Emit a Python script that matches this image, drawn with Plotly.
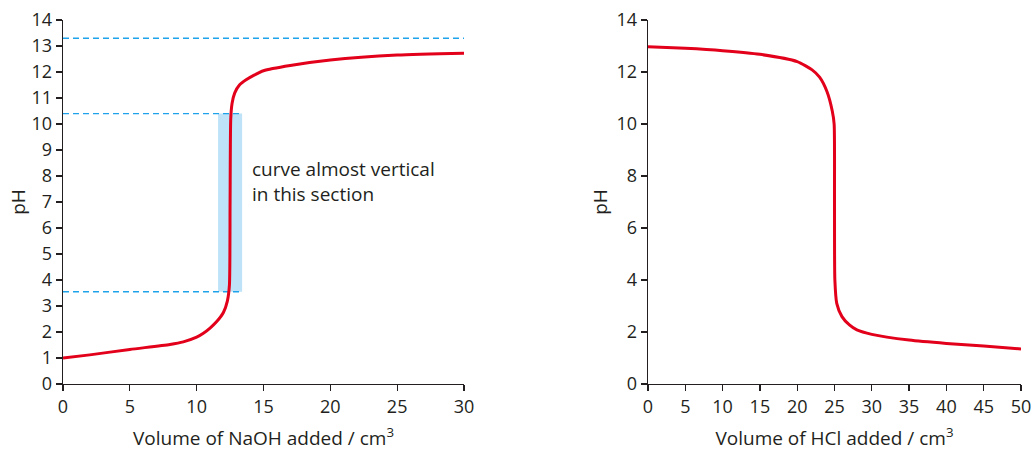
import plotly.graph_objects as go

# NaOH added to HCl (left)
naoh_vol = [0, 2, 5, 8, 9, 10, 10.5, 11, 11.5, 12, 12.3, 12.45, 12.5, 12.55, 12.65, 12.85, 13.2, 13.7, 14.3, 15, 17, 20, 25, 30]
naoh_ph = [1.0, 1.12, 1.33, 1.52, 1.62, 1.8, 1.95, 2.15, 2.4, 2.75, 3.2, 3.8, 7.0, 10.2, 10.8, 11.2, 11.5, 11.7, 11.88, 12.05, 12.25, 12.46, 12.65, 12.72]

# HCl added to NaOH (right)
hcl_vol = [0, 5, 10, 15, 20, 22, 23, 24, 24.7, 24.95, 25.0, 25.05, 25.3, 26, 27, 28, 30, 35, 40, 45, 50]
hcl_ph = [12.97, 12.91, 12.82, 12.68, 12.4, 12.08, 11.8, 11.24, 10.5, 10.0, 7.0, 4.0, 3.1, 2.59, 2.27, 2.08, 1.91, 1.69, 1.56, 1.46, 1.35]

# guide levels (left chart)
dash_levels = [13.3, 10.4, 3.55]
dash_ends = [30, 13.4, 13.4]
band_x = [11.6, 13.4]
band_y = [3.55, 10.4]

left_xticks = [0, 5, 10, 15, 20, 25, 30]
left_yticks = list(range(0, 15))
right_xticks = list(range(0, 55, 5))
right_yticks = [0, 2, 4, 6, 8, 10, 12, 14]

RED = "#e2001a"
BLUE = "#1ea3ea"
BAND = "#bee3f8"
INK = "#231f20"
FONT = "Open Sans"
FS_TICK = 18
FS_TEXT = 19

W, H = 1033, 452
ML, MT = 63, 20
MB = H - 384
MR = W - 1021
PW = W - ML - MR
LEFT_W = 464 - 63
RIGHT_X0 = 648 - 63

fig = go.Figure()
fig.add_trace(go.Scatter(x=naoh_vol, y=naoh_ph, mode="lines",
                         line=dict(color=RED, width=3, shape="spline", smoothing=0.6),
                         xaxis="x", yaxis="y", showlegend=False, hoverinfo="skip"))
fig.add_trace(go.Scatter(x=hcl_vol, y=hcl_ph, mode="lines",
                         line=dict(color=RED, width=3, shape="spline", smoothing=0.6),
                         xaxis="x2", yaxis="y2", showlegend=False, hoverinfo="skip"))

shapes = [dict(type="rect", xref="x", yref="y", x0=band_x[0], x1=band_x[1],
               y0=band_y[0], y1=band_y[1], fillcolor=BAND, line=dict(width=0), layer="below")]
for lvl, end in zip(dash_levels, dash_ends):
    shapes.append(dict(type="line", xref="x", yref="y", x0=0, x1=end, y0=lvl, y1=lvl,
                       line=dict(color=BLUE, width=1.4, dash="6px,4px"), layer="below"))

def ax(**kw):
    d = dict(showline=True, linecolor=INK, linewidth=1.3, ticks="outside",
             ticklen=6, tickwidth=1.3, tickcolor=INK, showgrid=False, zeroline=False,
             automargin=False, ticklabeloverflow="allow",
             tickfont=dict(family=FONT, size=FS_TICK, color=INK))
    d.update(kw)
    return d

tfont = dict(family=FONT, size=FS_TEXT, color=INK)

fig.update_layout(
    template="none",
    width=W, height=H,
    margin=dict(l=ML, r=MR, t=MT, b=MB),
    paper_bgcolor="white", plot_bgcolor="white",
    font=dict(family=FONT, color=INK, size=FS_TEXT),
    shapes=shapes,
    xaxis=ax(domain=[0, LEFT_W / PW], range=[0, 30], tickvals=left_xticks, anchor="y",
             title=dict(text="Volume of NaOH added / cm<sup>3</sup>", standoff=14, font=tfont)),
    yaxis=ax(domain=[0, 1], range=[0, 14], tickvals=left_yticks, anchor="x",
             title=dict(text="pH", standoff=1, font=tfont)),
    xaxis2=ax(domain=[RIGHT_X0 / PW, 1], range=[0, 50], tickvals=right_xticks, anchor="y2",
              title=dict(text="Volume of HCl added / cm<sup>3</sup>", standoff=14, font=tfont)),
    yaxis2=ax(domain=[0, 1], range=[0, 14], tickvals=right_yticks, anchor="x2",
              title=dict(text="pH", standoff=4, font=tfont)),
    annotations=[dict(x=14.0, y=7.8, xref="x", yref="y", xanchor="left", yanchor="middle",
                      align="left", showarrow=False,
                      text="curve almost vertical<br>in this section",
                      font=tfont)],
)

fig.write_html(
    "out.html",
    config={"displayModeBar": False, "staticPlot": True},
    post_script="document.body.style.margin='0';document.body.style.overflow='hidden';",
)
